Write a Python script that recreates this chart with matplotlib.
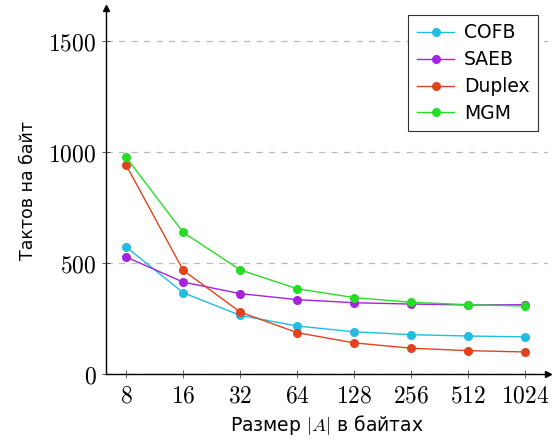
import matplotlib.pyplot as plt

plt.rcParams['mathtext.fontset'] = 'cm'

sizes = [8, 16, 32, 64, 128, 256, 512, 1024]
cofb = [572, 366, 264, 216, 190, 177, 171, 167]
saeb = [527, 414, 362, 335, 321, 315, 311, 312]
duplex = [941, 467, 279, 186, 140, 116, 105, 99]
mgm = [976, 638, 469, 384, 344, 323, 312, 306]

series = [('COFB', cofb, '#21bde0'),
          ('SAEB', saeb, '#a422e0'),
          ('Duplex', duplex, '#e0441f'),
          ('MGM', mgm, '#26dd26')]

fig = plt.figure(figsize=(5.53, 4.42), dpi=100)
ax = fig.add_axes([0.192, 0.154, 0.799, 0.828])

for name, vals, col in series:
    ax.plot(sizes, vals, '-o', color=col, lw=1.0, ms=5.5, label=name)

ax.set_xscale('log', base=2)
ax.set_xlim(6.27, 1350)
ax.set_ylim(0, 1650)
ax.set_xticks(sizes)
ax.set_xticklabels([f'${s}$' for s in sizes], fontsize=17)
ax.set_yticks([0, 500, 1000, 1500])
ax.set_yticklabels([f'${v}$' for v in [0, 500, 1000, 1500]], fontsize=17)
ax.minorticks_off()
ax.tick_params(direction='inout', length=6, width=0.6, color='#444444', pad=4)

ax.yaxis.grid(True, linestyle=(0, (5, 5)), color='#bbbbbb', lw=0.9)
ax.set_axisbelow(True)

for s in ['top', 'right']:
    ax.spines[s].set_visible(False)
for s in ['left', 'bottom']:
    ax.spines[s].set_linewidth(1.0)

# arrow heads on the axes
ax.plot(1, 0, '>k', ms=5, transform=ax.transAxes, clip_on=False)
ax.plot(0, 1, '^k', ms=5, transform=ax.transAxes, clip_on=False)

ax.set_xlabel('Размер $|A|$ в байтах', fontsize=13.5, labelpad=4)
ax.set_ylabel('Тактов на байт', fontsize=12.5, labelpad=8)

leg = ax.legend(loc='upper right', bbox_to_anchor=(0.977, 0.981), fontsize=13.5,
                fancybox=False, edgecolor='#333333', framealpha=1,
                handlelength=2.0, handletextpad=0.5, borderpad=0.45,
                labelspacing=0.42, borderaxespad=0)
leg.get_frame().set_linewidth(0.8)

fig.savefig('out.png', dpi=100)
